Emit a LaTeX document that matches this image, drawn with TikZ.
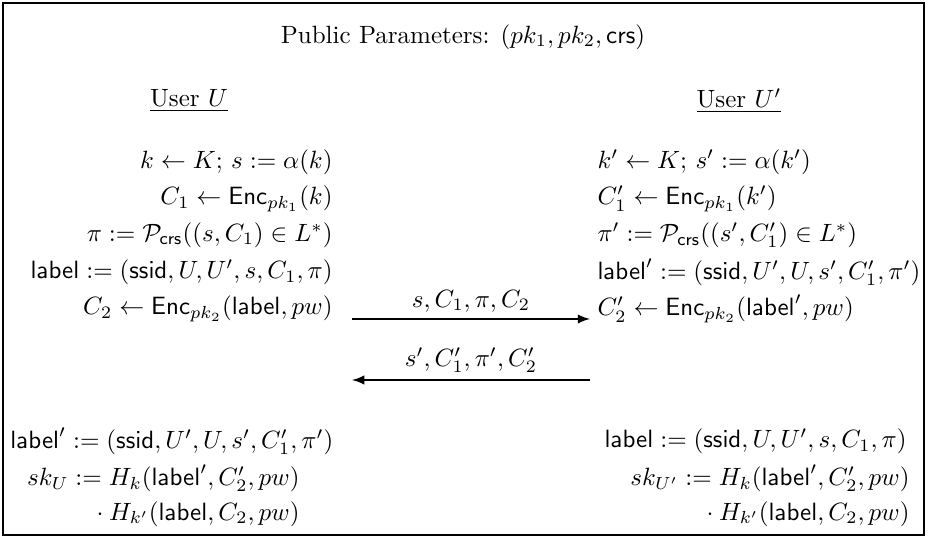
\documentclass[tikz,border=0pt]{standalone}
\usepackage{amsmath}
\usetikzlibrary{arrows}
\begin{document}
\begin{tikzpicture}[x=0.4pt,y=-0.4pt,inner sep=0pt,
  leftrow/.style={anchor=east},
  rightrow/.style={anchor=west},
  msg/.style={-latex,line width=0.7pt}]
\useasboundingbox (0,0) rectangle (927,538);
\draw[line width=0.8pt] (3,3) rectangle (924,535);
\node (pub) at (463,37) {Public Parameters: $(pk_1, pk_2, \mathsf{crs})$};
\node (userA) at (189,101) {\underline{User $U$}};
\node (userB) at (739,101) {\underline{User $U'$}};
% user U
\node[leftrow] (l1) at (333,162) {$k \leftarrow K;$ $s := \alpha(k)$};
\node[leftrow] (l2) at (333,199) {$C_1 \leftarrow \mathsf{Enc}_{pk_1}(k)$};
\node[leftrow] (l3) at (333,235) {$\pi := \mathcal{P}_{\mathsf{crs}}((s, C_1) \in L^*)$};
\node[leftrow] (l4) at (333,272) {$\mathsf{label} := (\mathsf{ssid}, U, U', s, C_1, \pi)$};
\node[leftrow] (l5) at (333,309) {$C_2 \leftarrow \mathsf{Enc}_{pk_2}(\mathsf{label}, pw)$};
% user U'
\node[rightrow] (r1) at (597,162) {$k' \leftarrow K;$ $s' := \alpha(k')$};
\node[rightrow] (r2) at (597,199) {$C_1' \leftarrow \mathsf{Enc}_{pk_1}(k')$};
\node[rightrow] (r3) at (597,235) {$\pi' := \mathcal{P}_{\mathsf{crs}}((s', C_1') \in L^*)$};
\node[rightrow] (r4) at (597,272) {$\mathsf{label}' := (\mathsf{ssid}, U', U, s', C_1', \pi')$};
\node[rightrow] (r5) at (597,309) {$C_2' \leftarrow \mathsf{Enc}_{pk_2}(\mathsf{label}', pw)$};
% messages
\coordinate (m1s) at (352,319);
\coordinate (m1e) at (590,319);
\coordinate (m2s) at (590,380);
\coordinate (m2e) at (352,380);
\draw[msg] (m1s) -- (m1e) node[midway,above=2.5pt] (msg1) {$s, C_1, \pi, C_2$};
\draw[msg] (m2s) -- (m2e) node[midway,above=2.5pt] (msg2) {$s', C_1', \pi', C_2'$};
% session keys
\node[anchor=west] (b1) at (10,441) {$\mathsf{label}' := (\mathsf{ssid}, U', U, s', C_1', \pi')$};
\node[leftrow] (b2) at (300,478) {$sk_U := H_k(\mathsf{label}', C_2', pw)$};
\node[leftrow] (b3) at (300,514) {${}\cdot H_{k'}(\mathsf{label}, C_2, pw)$};
\node[leftrow] (c1) at (907,441) {$\mathsf{label} := (\mathsf{ssid}, U, U', s, C_1, \pi)$};
\node[leftrow] (c2) at (910,478) {$sk_{U'} := H_k(\mathsf{label}', C_2', pw)$};
\node[leftrow] (c3) at (910,514) {${}\cdot H_{k'}(\mathsf{label}, C_2, pw)$};
\end{tikzpicture}
\end{document}
